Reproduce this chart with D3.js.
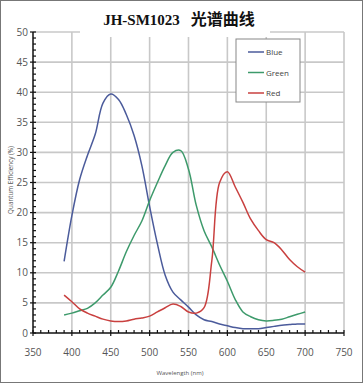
<!DOCTYPE html>
<html>
<meta charset="utf-8">
<head>
	<title>QE</title>
	<script src="https://d3js.org/d3.v7.min.js"></script>
</head>
<body style="margin:0">
<svg id="chart" height="383" width="363"></svg>

<script>
	// wavelength grid (nm) and quantum efficiency (%)
	var wavelengths = d3.range(390, 701, 10);
	var blue = [11.9, 19.5, 25.5, 29.5, 33, 38.2, 39.7, 38.8, 36.3, 32.8, 27.8, 21, 14.8, 9.6, 6.8, 5.5,
		4.3, 3.0, 2.2, 1.9, 1.5, 1.2, 0.9, 0.7, 0.7, 0.7, 0.9, 1.1, 1.3, 1.4, 1.5, 1.5];
	var green = [3.0, 3.3, 3.7, 4.1, 5.0, 6.3, 7.6, 10.3, 13.5, 16.2, 18.6, 22.0, 25.0, 27.8, 30.0, 30.3,
		27.2, 21.2, 17.0, 14.3, 11.3, 8.6, 5.6, 3.5, 2.7, 2.2, 2.0, 2.1, 2.3, 2.7, 3.1, 3.5];
	var red = [6.3, 5.2, 4.0, 3.3, 2.8, 2.3, 2.0, 1.9, 2.0, 2.3, 2.5, 2.8, 3.5, 4.2, 4.8, 4.4,
		3.5, 3.3, 4.2, 12, 25, 26.8, 24.3, 21.7, 18.9, 17.0, 15.5, 15.0, 13.8, 12.2, 11.0, 10.1];

	var xTicks = [350, 400, 450, 500, 550, 600, 650, 700, 750];
	var yTicks = [0, 5, 10, 15, 20, 25, 30, 35, 40, 45, 50];

	var series = [
		{name: "Blue", values: blue, color: "#4b5b9b"},
		{name: "Green", values: green, color: "#3d9a6b"},
		{name: "Red", values: red, color: "#c9403f"}
	];

	var svg = d3.select("#chart");
	var x = d3.scaleLinear().domain([350, 750]).range([33, 344]);
	var y = d3.scaleLinear().domain([0, 50]).range([333, 32]);

	svg.append("rect").attr("width", 363).attr("height", 383).attr("fill", "white");

	// grid
	svg.append("g").selectAll("line").data(xTicks.slice(1)).enter().append("line")
		.attr("x1", d => x(d)).attr("x2", d => x(d)).attr("y1", y(50)).attr("y2", y(0))
		.attr("stroke", "#c8c8c8").attr("stroke-width", 1.6);
	svg.append("g").selectAll("line").data(yTicks.slice(1)).enter().append("line")
		.attr("x1", x(350)).attr("x2", x(750)).attr("y1", d => y(d)).attr("y2", d => y(d))
		.attr("stroke", "#c8c8c8").attr("stroke-width", 1.6);

	// curves
	var line = d3.line()
		.x(function (d, i) { return x(wavelengths[i]); })
		.y(function (d) { return y(d); })
		.curve(d3.curveCatmullRom.alpha(0.5));

	svg.append("g").selectAll("path").data(series).enter().append("path")
		.attr("d", d => line(d.values))
		.attr("fill", "none")
		.attr("stroke", d => d.color)
		.attr("stroke-width", 1.5);

	// axes
	svg.append("line").attr("x1", x(350)).attr("x2", x(350)).attr("y1", y(50)).attr("y2", y(0))
		.attr("stroke", "#111").attr("stroke-width", 1.5);
	svg.append("line").attr("x1", x(350)).attr("x2", x(750)).attr("y1", y(0)).attr("y2", y(0))
		.attr("stroke", "#111").attr("stroke-width", 1.5);

	svg.append("g").selectAll("line").data(d3.range(0, 51, 1)).enter().append("line")
		.attr("x1", d => d % 5 === 0 ? x(350) - 3 : x(350))
		.attr("x2", x(350) + 3)
		.attr("y1", d => y(d)).attr("y2", d => y(d))
		.attr("stroke", "#111").attr("stroke-width", 1.2);
	svg.append("g").selectAll("line").data(d3.range(350, 751, 10)).enter().append("line")
		.attr("x1", d => x(d)).attr("x2", d => x(d))
		.attr("y1", y(0) - 3)
		.attr("y2", d => d % 50 === 0 ? y(0) + 3 : y(0))
		.attr("stroke", "#111").attr("stroke-width", 1.2);

	svg.append("g").selectAll("text").data(yTicks).enter().append("text")
		.attr("x", x(350) - 5).attr("y", d => y(d) + 3.5)
		.attr("text-anchor", "end")
		.attr("font-family", "Open Sans").attr("font-size", 10).attr("fill", "#555")
		.text(d => d);
	svg.append("g").selectAll("text").data(xTicks).enter().append("text")
		.attr("x", d => x(d)).attr("y", 356)
		.attr("text-anchor", "middle")
		.attr("font-family", "Open Sans").attr("font-size", 10).attr("fill", "#555")
		.text(d => d);

	svg.append("text").attr("x", 180).attr("y", 375).attr("text-anchor", "middle")
		.attr("font-family", "Open Sans").attr("font-size", 6).attr("fill", "#555")
		.text("Wavelength (nm)");
	svg.append("text").attr("transform", "translate(13,180) rotate(-90)").attr("text-anchor", "middle")
		.attr("font-family", "Open Sans").attr("font-size", 6.3).attr("fill", "#555")
		.text("Quantum Efficiency (%)");

	// title
	svg.append("rect").attr("x", 80).attr("y", 4).attr("width", 190).attr("height", 33).attr("fill", "white");
	var title = svg.append("text").attr("x", 179).attr("y", 25).attr("text-anchor", "middle")
		.attr("font-weight", "bold").attr("fill", "#111");
	title.append("tspan").attr("font-family", "Liberation Serif").attr("font-size", 15).text("JH-SM1023");
	title.append("tspan").attr("font-family", "Noto Sans CJK SC").attr("font-size", 16).attr("dx", 11).text("光谱曲线");

	// legend
	svg.append("rect").attr("x", 236).attr("y", 39).attr("width", 64).attr("height", 63)
		.attr("fill", "white").attr("stroke", "#888").attr("stroke-width", 1);
	var lg = svg.append("g").selectAll("g").data(series).enter().append("g")
		.attr("transform", (d, i) => "translate(248," + (52 + i * 20.5) + ")");
	lg.append("line").attr("x1", 0).attr("x2", 16).attr("stroke", d => d.color).attr("stroke-width", 1.5);
	lg.append("text").attr("x", 18).attr("y", 3).attr("font-family", "Open Sans").attr("font-size", 8)
		.attr("fill", "#444").text(d => d.name);

	// frame
	svg.append("rect").attr("x", 0.5).attr("y", 0.5).attr("width", 362).attr("height", 382)
		.attr("fill", "none").attr("stroke", "#777");
</script>
</body>
</html>
